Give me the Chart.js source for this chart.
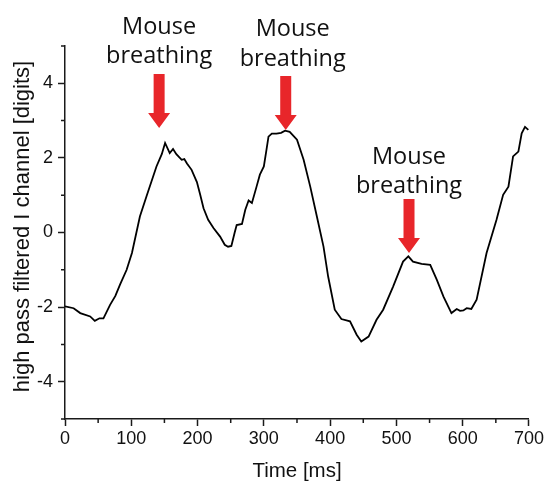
<!DOCTYPE html>
<html>
<head>
<meta charset="utf-8">
<script src="https://cdn.jsdelivr.net/npm/chart.js@4/dist/chart.umd.min.js"></script>
<style>
  html, body { margin: 0; padding: 0; background: #fff; }
  #wrap { width: 546px; height: 484px; }
</style>
</head>
<body>
<div id="wrap"><canvas id="signal"></canvas></div>
<script>
// time axis of the recording [ms]
const times = [0, 13, 23, 38, 45, 52, 58, 68, 76, 83, 93, 101, 113, 123, 138, 146, 151, 158, 163, 168, 176, 180, 184, 191, 199,
  204, 209, 216, 224, 234, 241, 246, 251, 256, 259, 267, 272, 277, 282, 289, 294, 300, 304, 307, 312, 319, 326, 332, 339, 350,
  360, 370, 380, 390, 397, 407, 417, 430, 440, 447, 458, 470, 480, 495, 510, 518, 525, 538, 551, 561, 571, 583, 591, 596, 601,
  606, 613, 621, 636, 651, 661, 669, 676, 684, 689, 694, 699];
// high pass filtered I channel [digits]
const signal = [-1.98, -2.03, -2.16, -2.25, -2.37, -2.3, -2.3, -1.94, -1.7, -1.4, -1.0, -0.55, 0.43, 0.97, 1.77, 2.1, 2.4, 2.13,
  2.24, 2.1, 1.95, 1.97, 1.85, 1.68, 1.35, 1.01, 0.65, 0.34, 0.12, -0.11, -0.33, -0.38, -0.36, 0.0, 0.2, 0.23, 0.61, 0.86, 0.79,
  1.23, 1.55, 1.77, 2.22, 2.57, 2.65, 2.65, 2.67, 2.73, 2.7, 2.49, 1.95, 1.23, 0.43, -0.38, -1.18, -2.07, -2.32, -2.38, -2.74,
  -2.92, -2.79, -2.34, -2.07, -1.45, -0.78, -0.64, -0.78, -0.84, -0.87, -1.27, -1.72, -2.16, -2.05, -2.1, -2.09, -2.03, -2.05,
  -1.8, -0.55, 0.34, 1.01, 1.23, 2.04, 2.17, 2.66, 2.83, 2.75];
const xTicks = [0, 100, 200, 300, 400, 500, 600, 700];
const yTicks = [-4, -2, 0, 2, 4];

const axisColor = '#1a1a1a';
const sans = "'Liberation Sans', Arial, sans-serif";
const tickFont = { family: sans, size: 18 };

// short unlabelled ticks between the numbered ones
const minorTicks = {
  id: 'minorTicks',
  afterDraw(chart) {
    const { ctx, scales: { x, y } } = chart;
    ctx.save();
    ctx.strokeStyle = axisColor;
    ctx.lineWidth = 1.5;
    ctx.beginPath();
    for (let t = 50; t < 700; t += 100) {
      const px = x.getPixelForValue(t);
      ctx.moveTo(px, y.bottom);
      ctx.lineTo(px, y.bottom + 4);
    }
    for (let v = -5; v <= 5; v += 2) {
      const py = y.getPixelForValue(v);
      ctx.moveTo(x.left, py);
      ctx.lineTo(x.left - 4, py);
    }
    ctx.stroke();
    ctx.restore();
  }
};

// y axis caption, written bottom-to-top beside the tick labels
const yCaption = {
  id: 'yCaption',
  afterDraw(chart) {
    const { ctx, chartArea } = chart;
    ctx.save();
    ctx.translate(23, (chartArea.top + chartArea.bottom) / 2 - 6);
    ctx.rotate(-Math.PI / 2);
    ctx.fillStyle = '#111';
    ctx.font = '22px ' + sans;
    ctx.textAlign = 'center';
    ctx.textBaseline = 'middle';
    ctx.fillText('high pass filtered I channel [digits]', 0, 0);
    ctx.restore();
  }
};

// red arrows with "Mouse breathing" labels above the peaks
const breathMarks = {
  id: 'breathMarks',
  marks: [
    { t: 142, v: 2.8, dx: 0, gap: 11 },
    { t: 333, v: 2.75, dx: 7, gap: 10 },
    { t: 519, v: -0.55, dx: 0, gap: 6 }
  ],
  afterDatasetsDraw(chart) {
    const { ctx, scales: { x, y } } = chart;
    ctx.save();
    this.marks.forEach(m => {
      const cx = x.getPixelForValue(m.t);
      const tip = y.getPixelForValue(m.v);
      const top = tip - 54;
      const headTop = tip - 15;
      ctx.fillStyle = '#e8262a';
      ctx.beginPath();
      ctx.moveTo(cx - 5.5, top);
      ctx.lineTo(cx + 5.5, top);
      ctx.lineTo(cx + 5.5, headTop);
      ctx.lineTo(cx + 11, headTop);
      ctx.lineTo(cx, tip);
      ctx.lineTo(cx - 11, headTop);
      ctx.lineTo(cx - 5.5, headTop);
      ctx.closePath();
      ctx.fill();

      ctx.fillStyle = '#111';
      ctx.font = "23.5px 'Open Sans', 'Noto Sans', sans-serif";
      ctx.textAlign = 'center';
      ctx.textBaseline = 'alphabetic';
      ctx.fillText('breathing', cx + m.dx, top - m.gap);
      ctx.fillText('Mouse', cx + m.dx, top - m.gap - 29.5);
    });
    ctx.restore();
  }
};

new Chart('signal', {
  type: 'line',
  data: {
    datasets: [{
      data: times.map((t, i) => ({ x: t, y: signal[i] })),
      borderColor: '#000',
      borderWidth: 1.8,
      pointRadius: 0,
      tension: 0,
      fill: false
    }]
  },
  options: {
    responsive: true,
    maintainAspectRatio: false,
    animation: false,
    layout: { padding: { top: 46, right: 17, left: 0, bottom: 0 } },
    plugins: { legend: { display: false }, tooltip: { enabled: false } },
    scales: {
      x: {
        type: 'linear',
        min: 0,
        max: 700,
        afterBuildTicks: s => { s.ticks = xTicks.map(v => ({ value: v })); },
        afterFit: s => { s.height = 65; },
        border: { color: axisColor, width: 1.5 },
        grid: { drawOnChartArea: false, tickLength: 7, tickColor: axisColor, tickWidth: 1.5 },
        ticks: { color: '#111', font: tickFont, padding: 2, maxRotation: 0 },
        title: { display: true, text: 'Time [ms]', color: '#111', font: { family: sans, size: 20.5 }, padding: { top: 0, bottom: 0 } }
      },
      y: {
        min: -5,
        max: 5,
        afterBuildTicks: s => { s.ticks = yTicks.map(v => ({ value: v })); },
        afterFit: s => { s.width = 65; },
        border: { color: axisColor, width: 1.5 },
        grid: { drawOnChartArea: false, tickLength: 7, tickColor: axisColor, tickWidth: 1.5 },
        ticks: { color: '#111', font: tickFont, padding: 5 }
      }
    }
  },
  plugins: [minorTicks, yCaption, breathMarks]
});
</script>
</body>
</html>
